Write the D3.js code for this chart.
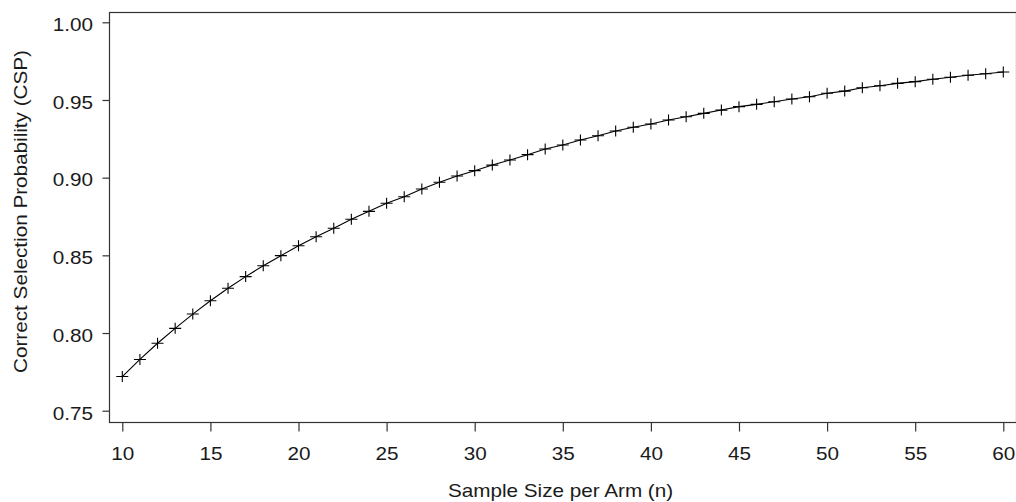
<!DOCTYPE html>
<html>
<head>
<meta charset="utf-8">
<script src="https://cdn.jsdelivr.net/npm/d3@7"></script>
<style>
  body { margin: 0; background: #fff; }
  svg { display: block; font-family: "Liberation Sans", Arial, sans-serif; }
</style>
</head>
<body>
<div id="chart"></div>
<script>
// sample size per arm (x categories)
var sampleSize = [10, 11, 12, 13, 14, 15, 16, 17, 18, 19,
  20, 21, 22, 23, 24, 25, 26, 27, 28, 29,
  30, 31, 32, 33, 34, 35, 36, 37, 38, 39,
  40, 41, 42, 43, 44, 45, 46, 47, 48, 49,
  50, 51, 52, 53, 54, 55, 56, 57, 58, 59, 60]

// correct selection probability
var csp = [0.772, 0.783, 0.7934, 0.803, 0.8122, 0.8208, 0.8288, 0.8363, 0.8433, 0.8498,
  0.8562, 0.862, 0.8674, 0.8732, 0.8783, 0.8835, 0.8877, 0.8927, 0.897, 0.9011,
  0.9045, 0.9081, 0.9114, 0.9148, 0.9184, 0.921, 0.9242, 0.927, 0.930, 0.9324,
  0.9345, 0.9371, 0.9392, 0.9414, 0.9435, 0.9457, 0.9472, 0.9489, 0.9506, 0.9521,
  0.9543, 0.9557, 0.9579, 0.9592, 0.9607, 0.9618, 0.9633, 0.9646, 0.9659, 0.9669, 0.968]

var xTicks = [10, 15, 20, 25, 30, 35, 40, 45, 50, 55, 60]
var yTicks = [0.75, 0.80, 0.85, 0.90, 0.95, 1.00]

var data = sampleSize.map(function (n, i) {
  return { n: n, p: csp[i] };
});

var width = 1016, height = 502
var box = { left: 109, top: 12, right: 1016, bottom: 422 }
var stretch = 1.15   // labels in the picture are a bit wide
var axisColor = "#333"
var textColor = "#1a1a1a"

var svg = d3.select("#chart")
  .append("svg")
  .attr("width", width)
  .attr("height", height)

var x = d3.scaleLinear()
  .domain([10, 60])
  .range([122.3, 1003.3]);

var y = d3.scaleLinear()
  .domain([0.75, 1.00])
  .range([410.7, 22.3]);

// frame
svg.append("rect")
  .attr("x", box.left + 0.5)
  .attr("y", box.top + 0.5)
  .attr("width", box.right - box.left)
  .attr("height", box.bottom - box.top)
  .attr("fill", "none")
  .attr("stroke", axisColor)
  .attr("stroke-width", 1.2)

// x axis
var gx = svg.append("g")
  .attr("transform", "translate(0," + (box.bottom + 0.5) + ")")
  .call(d3.axisBottom(x).tickValues(xTicks).tickSize(9).tickSizeOuter(0).tickFormat(d3.format("d")))
gx.select(".domain").remove()
gx.selectAll(".tick line").attr("stroke", axisColor).attr("stroke-width", 1.2)
gx.selectAll(".tick text")
  .attr("y", 0)
  .attr("dy", 0)
  .attr("transform", "translate(0,37) scale(" + stretch + ",1)")
  .style("font-size", "18px")
  .attr("fill", textColor)

// y axis
var gy = svg.append("g")
  .attr("transform", "translate(" + (box.left + 0.5) + ",0)")
  .call(d3.axisLeft(y).tickValues(yTicks).tickSize(7).tickSizeOuter(0).tickFormat(d3.format(".2f")))
gy.select(".domain").remove()
gy.selectAll(".tick line").attr("stroke", axisColor).attr("stroke-width", 1.2)
gy.selectAll(".tick text")
  .attr("x", 0)
  .attr("dy", 0)
  .attr("transform", "translate(-16.5,8.3) scale(" + stretch + ",1)")
  .style("font-size", "18px")
  .attr("fill", textColor)

// line
svg.append("path")
  .datum(data)
  .attr("fill", "none")
  .attr("stroke", "#000")
  .attr("stroke-width", 1.1)
  .attr("d", d3.line()
    .x(function (d) { return x(d.n); })
    .y(function (d) { return y(d.p); }))

// plus markers
var pts = svg.append("g")
  .selectAll("g")
  .data(data)
  .enter()
  .append("g")
  .attr("transform", function (d) {
    return "translate(" + x(d.n) + "," + y(d.p) + ")";
  })
pts.append("path")
  .attr("d", "M-6,0H6M0,-5.5V5.5")
  .attr("stroke", "#000")
  .attr("stroke-width", 1.1)

// axis titles
svg.append("text")
  .attr("transform", "translate(560.5,497) scale(" + stretch + ",1)")
  .attr("text-anchor", "middle")
  .style("font-size", "18px")
  .attr("fill", textColor)
  .text("Sample Size per Arm (n)")

svg.append("text")
  .attr("transform", "translate(27,211.5) rotate(-90) scale(" + stretch + ",1)")
  .attr("text-anchor", "middle")
  .style("font-size", "18px")
  .attr("fill", textColor)
  .text("Correct Selection Probability (CSP)")
</script>
</body>
</html>
